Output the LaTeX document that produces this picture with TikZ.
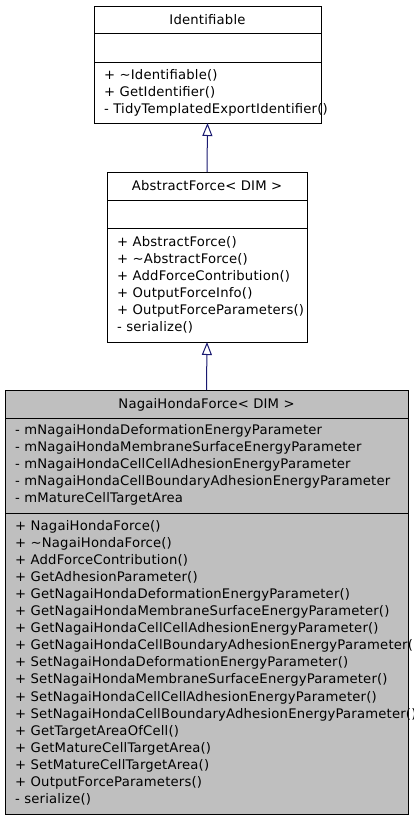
\documentclass[tikz,border=0pt]{standalone}
\usepackage{fontspec}
\setmainfont[LetterSpace=1.4]{DejaVu Sans}
\usetikzlibrary{arrows.meta}
\definecolor{edgeblue}{HTML}{191970}
\definecolor{classgrey}{HTML}{BFBFBF}
\begin{document}
\begin{tikzpicture}[x=1pt,y=-1pt,
  classbox/.style={draw=black, line width=1pt, inner sep=0pt, outer sep=0pt, anchor=north west, fill=white},
  divider/.style={draw=black, line width=1pt},
  member/.style={inner sep=0pt, anchor=base west, font=\fontsize{13.2}{17}\selectfont},
  classtitle/.style={inner sep=0pt, anchor=base, font=\fontsize{13.2}{17}\selectfont},
  inherit/.style={draw=edgeblue, line width=1pt, -{Triangle[open, length=13pt, width=10pt]}}]
\useasboundingbox (0,0) rectangle (413,819);

% --- Identifiable ---
\node[classbox, minimum width=227pt, minimum height=117pt] (ident) at (94,6) {};
\draw[divider] (94,33.5) -- (321,33.5);
\draw[divider] (94,62) -- (321,62);
\node[classtitle] (identtitle) at (207.5,24) {Identifiable};
\foreach \t [count=\i] in {+ \textasciitilde Identifiable(), + GetIdentifier(), - TidyTemplatedExportIdentifier()}
  \node[member] (identop\i) at ({104},{79.5+16.8*(\i-1)}) {\t};

% --- AbstractForce ---
\node[classbox, minimum width=200pt, minimum height=170pt] (abs) at (107,172) {};
\draw[divider] (107,200) -- (307,200);
\draw[divider] (107,228) -- (307,228);
\node[classtitle] (abstitle) at (207,190.5) {AbstractForce< DIM >};
\foreach \t [count=\i] in {+ AbstractForce(), + \textasciitilde AbstractForce(), + AddForceContribution(), + OutputForceInfo(), + OutputForceParameters(), - serialize()}
  \node[member] (absop\i) at ({117},{246.5+17*(\i-1)}) {\t};

% --- NagaiHondaForce ---
\node[classbox, fill=classgrey, minimum width=403pt, minimum height=424pt] (nh) at (5,390) {};
\draw[divider] (5,418) -- (408,418);
\draw[divider] (5,513) -- (408,513);
\node[classtitle] (nhtitle) at (206.5,408.5) {NagaiHondaForce< DIM >};
\foreach \t [count=\i] in {- mNagaiHondaDeformationEnergyParameter, - mNagaiHondaMembraneSurfaceEnergyParameter, - mNagaiHondaCellCellAdhesionEnergyParameter, - mNagaiHondaCellBoundaryAdhesionEnergyParameter, - mMatureCellTargetArea}
  \node[member] (nhattr\i) at ({15},{434+17*(\i-1)}) {\t};
\foreach \t [count=\i] in {+ NagaiHondaForce(), + \textasciitilde NagaiHondaForce(), + AddForceContribution(), + GetAdhesionParameter(), + GetNagaiHondaDeformationEnergyParameter(), + GetNagaiHondaMembraneSurfaceEnergyParameter(), + GetNagaiHondaCellCellAdhesionEnergyParameter(), + GetNagaiHondaCellBoundaryAdhesionEnergyParameter(), + SetNagaiHondaDeformationEnergyParameter(), + SetNagaiHondaMembraneSurfaceEnergyParameter(), + SetNagaiHondaCellCellAdhesionEnergyParameter(), + SetNagaiHondaCellBoundaryAdhesionEnergyParameter(), + GetTargetAreaOfCell(), + GetMatureCellTargetArea(), + SetMatureCellTargetArea(), + OutputForceParameters(), - serialize()}
  \node[member] (nhop\i) at ({15},{530+17.1*(\i-1)}) {\t};

% --- inheritance ---
\draw[inherit] (abs.north) -- (ident.south);
\draw[inherit] (nh.north) -- (abs.south);
\end{tikzpicture}
\end{document}
